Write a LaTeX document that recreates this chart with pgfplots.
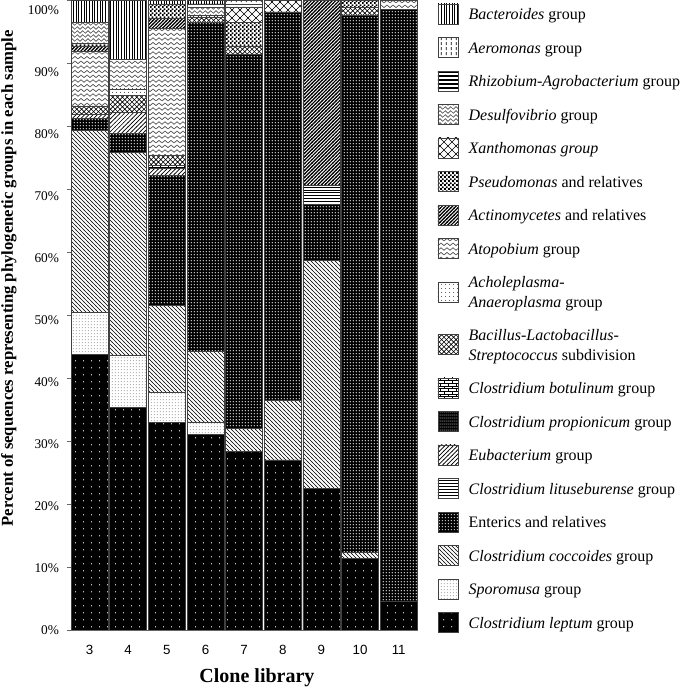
\documentclass[border=0pt]{standalone}
\usepackage{fontspec}
\setmainfont{Liberation Serif}
\newfontfamily\arialf{Liberation Sans}
\usepackage{pgfplots}
\pgfplotsset{compat=1.18}
\usepackage{pgfplotstable}
\usetikzlibrary{patterns}

% ---------- patterns ----------
\pgfdeclarepatternformonly{pvert}{\pgfqpoint{-0.5pt}{-0.5pt}}{\pgfqpoint{2.5pt}{2.5pt}}{\pgfqpoint{2pt}{2pt}}{%
 \pgfsetlinewidth{0.75pt}\pgfpathmoveto{\pgfqpoint{1pt}{-0.5pt}}\pgfpathlineto{\pgfqpoint{1pt}{2.5pt}}\pgfusepath{stroke}}
\pgfdeclarepatternformonly{paer}{\pgfqpoint{0pt}{0pt}}{\pgfqpoint{3.5pt}{4pt}}{\pgfqpoint{3.5pt}{4pt}}{%
 \pgfsetlinewidth{0.5pt}\pgfpathmoveto{\pgfqpoint{1.75pt}{0.8pt}}\pgfpathlineto{\pgfqpoint{1.75pt}{3.2pt}}\pgfusepath{stroke}}
\pgfdeclarepatternformonly{prhi}{\pgfqpoint{-0.5pt}{0pt}}{\pgfqpoint{3.5pt}{3pt}}{\pgfqpoint{3pt}{3pt}}{%
 \pgfsetlinewidth{1.4pt}\pgfpathmoveto{\pgfqpoint{-0.5pt}{1.5pt}}\pgfpathlineto{\pgfqpoint{3.5pt}{1.5pt}}\pgfusepath{stroke}}
\pgfdeclarepatternformonly{pdes}{\pgfqpoint{-0.5pt}{0pt}}{\pgfqpoint{4.5pt}{3pt}}{\pgfqpoint{4pt}{3pt}}{%
 \pgfsetlinewidth{0.5pt}\pgfpathmoveto{\pgfqpoint{0pt}{0.5pt}}\pgfpathlineto{\pgfqpoint{2pt}{2.5pt}}\pgfpathlineto{\pgfqpoint{4pt}{0.5pt}}\pgfusepath{stroke}}
\pgfdeclarepatternformonly{pxan}{\pgfqpoint{-0.5pt}{-0.5pt}}{\pgfqpoint{6.5pt}{6.5pt}}{\pgfqpoint{6pt}{6pt}}{%
 \pgfsetlinewidth{0.5pt}\pgfpathmoveto{\pgfqpoint{-0.2pt}{-0.2pt}}\pgfpathlineto{\pgfqpoint{6.2pt}{6.2pt}}%
 \pgfpathmoveto{\pgfqpoint{-0.2pt}{6.2pt}}\pgfpathlineto{\pgfqpoint{6.2pt}{-0.2pt}}\pgfusepath{stroke}}
\pgfdeclarepatternformonly{ppse}{\pgfqpoint{0pt}{0pt}}{\pgfqpoint{2.8pt}{2.8pt}}{\pgfqpoint{2.8pt}{2.8pt}}{%
 \pgfpathrectangle{\pgfqpoint{0pt}{0pt}}{\pgfqpoint{1.4pt}{1.4pt}}\pgfpathrectangle{\pgfqpoint{1.4pt}{1.4pt}}{\pgfqpoint{1.4pt}{1.4pt}}\pgfusepath{fill}}
\pgfdeclarepatternformonly{pact}{\pgfqpoint{-1pt}{-1pt}}{\pgfqpoint{3.6pt}{3.6pt}}{\pgfqpoint{2.6pt}{2.6pt}}{%
 \pgfsetlinewidth{0.9pt}\pgfpathmoveto{\pgfqpoint{-0.3pt}{-0.3pt}}\pgfpathlineto{\pgfqpoint{2.9pt}{2.9pt}}\pgfusepath{stroke}}
\pgfdeclarepatternformonly{pato}{\pgfqpoint{-0.5pt}{0pt}}{\pgfqpoint{5pt}{3.5pt}}{\pgfqpoint{4.5pt}{3.5pt}}{%
 \pgfsetlinewidth{0.5pt}\pgfpathmoveto{\pgfqpoint{0pt}{0.8pt}}\pgfpathlineto{\pgfqpoint{2.25pt}{2.7pt}}\pgfpathlineto{\pgfqpoint{4.5pt}{0.8pt}}\pgfusepath{stroke}}
\pgfdeclarepatternformonly{pach}{\pgfqpoint{0pt}{0pt}}{\pgfqpoint{2.6pt}{2.6pt}}{\pgfqpoint{2.6pt}{2.6pt}}{%
 \pgfpathcircle{\pgfqpoint{1.3pt}{1.3pt}}{0.4pt}\pgfusepath{fill}}
\pgfdeclarepatternformonly{pbla}{\pgfqpoint{-0.5pt}{-0.5pt}}{\pgfqpoint{4.1pt}{4.1pt}}{\pgfqpoint{3.6pt}{3.6pt}}{%
 \pgfsetlinewidth{0.45pt}\pgfpathmoveto{\pgfqpoint{-0.2pt}{-0.2pt}}\pgfpathlineto{\pgfqpoint{3.8pt}{3.8pt}}%
 \pgfpathmoveto{\pgfqpoint{-0.2pt}{3.8pt}}\pgfpathlineto{\pgfqpoint{3.8pt}{-0.2pt}}\pgfusepath{stroke}}
\pgfdeclarepatternformonly{pbot}{\pgfqpoint{-0.5pt}{-0.5pt}}{\pgfqpoint{6.5pt}{4.5pt}}{\pgfqpoint{6pt}{4pt}}{%
 \pgfsetlinewidth{0.45pt}\pgfpathmoveto{\pgfqpoint{-0.5pt}{0pt}}\pgfpathlineto{\pgfqpoint{6.5pt}{0pt}}%
 \pgfpathmoveto{\pgfqpoint{-0.5pt}{2pt}}\pgfpathlineto{\pgfqpoint{6.5pt}{2pt}}%
 \pgfpathmoveto{\pgfqpoint{0.5pt}{0pt}}\pgfpathlineto{\pgfqpoint{0.5pt}{2pt}}%
 \pgfpathmoveto{\pgfqpoint{3.5pt}{2pt}}\pgfpathlineto{\pgfqpoint{3.5pt}{4pt}}\pgfusepath{stroke}}
\pgfdeclarepatternformonly{ppro}{\pgfqpoint{0pt}{0pt}}{\pgfqpoint{1.8pt}{1.8pt}}{\pgfqpoint{1.8pt}{1.8pt}}{%
 \pgfpathcircle{\pgfqpoint{0.9pt}{0.9pt}}{0.45pt}\pgfusepath{fill}}
\pgfdeclarepatternformonly{peub}{\pgfqpoint{-1pt}{-1pt}}{\pgfqpoint{4.2pt}{4.2pt}}{\pgfqpoint{3.2pt}{3.2pt}}{%
 \pgfsetlinewidth{0.5pt}\pgfpathmoveto{\pgfqpoint{-0.2pt}{-0.2pt}}\pgfpathlineto{\pgfqpoint{3.4pt}{3.4pt}}\pgfusepath{stroke}}
\pgfdeclarepatternformonly{plit}{\pgfqpoint{-0.5pt}{0pt}}{\pgfqpoint{2.7pt}{2.2pt}}{\pgfqpoint{2.2pt}{2.2pt}}{%
 \pgfsetlinewidth{0.5pt}\pgfpathmoveto{\pgfqpoint{-0.5pt}{1.1pt}}\pgfpathlineto{\pgfqpoint{2.7pt}{1.1pt}}\pgfusepath{stroke}}
\pgfdeclarepatternformonly{pent}{\pgfqpoint{0pt}{0pt}}{\pgfqpoint{2.4pt}{2.4pt}}{\pgfqpoint{2.4pt}{2.4pt}}{%
 \pgfpathcircle{\pgfqpoint{1.2pt}{1.2pt}}{0.55pt}\pgfusepath{fill}}
\pgfdeclarepatternformonly{pcoc}{\pgfqpoint{-1pt}{-1pt}}{\pgfqpoint{4pt}{4pt}}{\pgfqpoint{3pt}{3pt}}{%
 \pgfsetlinewidth{0.5pt}\pgfpathmoveto{\pgfqpoint{-0.2pt}{3.2pt}}\pgfpathlineto{\pgfqpoint{3.2pt}{-0.2pt}}\pgfusepath{stroke}}
\pgfdeclarepatternformonly{pspo}{\pgfqpoint{0pt}{0pt}}{\pgfqpoint{2pt}{2pt}}{\pgfqpoint{2pt}{2pt}}{%
 \pgfpathcircle{\pgfqpoint{1pt}{1pt}}{0.35pt}\pgfusepath{fill}}
\pgfdeclarepatternformonly{plep}{\pgfqpoint{0pt}{0pt}}{\pgfqpoint{6pt}{5pt}}{\pgfqpoint{6pt}{5pt}}{%
 \pgfpathcircle{\pgfqpoint{3pt}{2.5pt}}{0.5pt}\pgfusepath{fill}}

\pgfplotsset{
 lgimg/.style={legend image code/.code={\draw[##1] (0pt,-7.5pt) rectangle (15pt,7.5pt);}},
 barbase/.style={draw=black!75, line width=0.4pt, lgimg},
 s-lep/.style={barbase, fill=black, postaction={pattern=plep, pattern color=white}},
 s-spo/.style={barbase, pattern=pspo, pattern color=black!80},
 s-coc/.style={barbase, pattern=pcoc, pattern color=black},
 s-ent/.style={barbase, fill=black, postaction={pattern=pent, pattern color=white}},
 s-lit/.style={barbase, pattern=plit, pattern color=black},
 s-eub/.style={barbase, pattern=peub, pattern color=black},
 s-pro/.style={barbase, fill=black, postaction={pattern=ppro, pattern color=white}},
 s-bot/.style={barbase, pattern=pbot, pattern color=black},
 s-bla/.style={barbase, pattern=pbla, pattern color=black},
 s-ach/.style={barbase, pattern=pach, pattern color=black!80},
 s-ato/.style={barbase, pattern=pato, pattern color=black!70},
 s-act/.style={barbase, pattern=pact, pattern color=black},
 s-pse/.style={barbase, pattern=ppse, pattern color=black},
 s-xan/.style={barbase, pattern=pxan, pattern color=black},
 s-des/.style={barbase, pattern=pdes, pattern color=black!70},
 s-rhi/.style={barbase, pattern=prhi, pattern color=black},
 s-aer/.style={barbase, pattern=paer, pattern color=black},
 s-bac/.style={barbase, pattern=pvert, pattern color=black},
}

\pgfplotstableread{
x lep spo coc ent lit eub pro bot bla ach ato act pse xan des rhi aer bac
3 43.8 6.7 28.9 1.8 0 0.6 0 0 1.4 0 8.7 0.8 0.4 0 3.4 0 0 3.5
4 35.3 8.3 32.3 2.9 0 3.4 0 0 2.7 1.0 4.7 0 0 0 0 0 0 9.4
5 32.9 4.9 13.8 20.6 0 1.1 0 0.5 1.6 0 20.1 1.6 2.3 0 0 0 0 0.6
6 31.0 1.9 11.3 52.3 0 0 0 0 0.8 0 0 0 0 0.3 1.2 0.6 0 0.6
7 28.4 0 3.6 59.4 0 0 0 0 1.2 0 0 0 3.8 2.5 0 0.4 0.7 0
8 27.0 0 9.5 61.6 0 0 0 0 0 0 0 0 0 1.9 0 0 0 0
9 22.5 0 36.2 8.8 3.1 0 0 0 0 0 0 29.4 0 0 0 0 0 0
10 11.4 0 1.0 85.1 0 0 0 0 1.3 0 0 0 1.2 0 0 0 0 0
11 4.5 0 0 94.0 0 0 0 0 0 0 1.5 0 0 0 0 0 0 0
}\data

\begin{document}
\begin{tikzpicture}
\useasboundingbox (0,0) rectangle (517.5pt,517.5pt);
\begin{axis}[
 at={(53.25pt,45pt)}, anchor=south west,
 scale only axis, width=260.25pt, height=472.5pt,
 xmin=2.52, xmax=11.5, ymin=0, ymax=100,
 ybar stacked, bar width=0.955,
 axis lines*=left,
 axis line style={black!60, line width=0.5pt},
 xtick={3,...,11}, xtick style={draw=none},
 ytick={0,10,...,100}, tick align=outside, major tick length=3pt,
 ytick style={black!60},
 /pgf/number format/assume math mode=true,
 yticklabel={\raisebox{\dimexpr-3.4pt-\ticknum\dimexpr0.75pt\relax\relax}{\pgfmathprintnumber{\tick}\%}},
 yticklabel style={font=\fontsize{10}{12}\selectfont, anchor=base east, xshift=-2.5pt},
 xticklabel style={font=\arialf\fontsize{10}{12}\selectfont, anchor=base, yshift=-15.5pt},
 xlabel={Clone library},
 xlabel style={font=\fontsize{15}{18}\selectfont\bfseries, at={(rel axis cs:0.536,0)}, anchor=base, yshift=-39.75pt},
 ylabel={Percent of sequences representing phylogenetic groups in each sample},
 ylabel style={font=\fontsize{12.5}{15}\selectfont\bfseries, at={(rel axis cs:-0.179,0.558)}, anchor=center},
 reverse legend,
 legend cell align=left,
 legend style={at={(1.056,0.995)}, anchor=north west, draw=none, fill=none,
   font=\fontsize{12}{14.5}\selectfont, row sep=9.5pt, column sep=5.8pt,
   inner sep=0pt, cells={align=left}},
]
\addplot[s-lep] table[x=x,y=lep]{\data}; \addlegendentry{\strut\textit{Clostridium leptum} group}
\addplot[s-spo] table[x=x,y=spo]{\data}; \addlegendentry{\strut\textit{Sporomusa} group}
\addplot[s-coc] table[x=x,y=coc]{\data}; \addlegendentry{\strut\textit{Clostridium coccoides} group}
\addplot[s-ent] table[x=x,y=ent]{\data}; \addlegendentry{\strut Enterics and relatives}
\addplot[s-lit] table[x=x,y=lit]{\data}; \addlegendentry{\strut\textit{Clostridium lituseburense} group}
\addplot[s-eub] table[x=x,y=eub]{\data}; \addlegendentry{\strut\textit{Eubacterium} group}
\addplot[s-pro] table[x=x,y=pro]{\data}; \addlegendentry{\strut\textit{Clostridium propionicum} group}
\addplot[s-bot] table[x=x,y=bot]{\data}; \addlegendentry{\strut\textit{Clostridium botulinum} group}
\addplot[s-bla] table[x=x,y=bla]{\data}; \addlegendentry{\strut\textit{Bacillus-Lactobacillus-}\\\strut\textit{Streptococcus} subdivision}
\addplot[s-ach] table[x=x,y=ach]{\data}; \addlegendentry{\strut\textit{Acholeplasma-}\\\strut\textit{Anaeroplasma} group}
\addplot[s-ato] table[x=x,y=ato]{\data}; \addlegendentry{\strut\textit{Atopobium} group}
\addplot[s-act] table[x=x,y=act]{\data}; \addlegendentry{\strut\textit{Actinomycetes} and relatives}
\addplot[s-pse] table[x=x,y=pse]{\data}; \addlegendentry{\strut\textit{Pseudomonas} and relatives}
\addplot[s-xan] table[x=x,y=xan]{\data}; \addlegendentry{\strut\textit{Xanthomonas group}}
\addplot[s-des] table[x=x,y=des]{\data}; \addlegendentry{\strut\textit{Desulfovibrio} group}
\addplot[s-rhi] table[x=x,y=rhi]{\data}; \addlegendentry{\strut\textit{Rhizobium-Agrobacterium} group}
\addplot[s-aer] table[x=x,y=aer]{\data}; \addlegendentry{\strut\textit{Aeromonas} group}
\addplot[s-bac] table[x=x,y=bac]{\data}; \addlegendentry{\strut\textit{Bacteroides} group}
\end{axis}
\end{tikzpicture}
\end{document}
